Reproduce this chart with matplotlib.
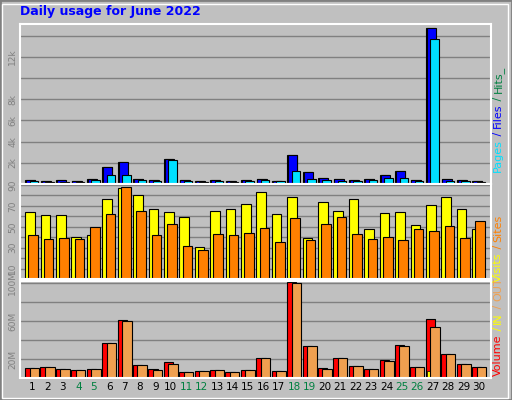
import matplotlib
matplotlib.use("Agg")
import matplotlib.pyplot as plt
import numpy as np

days = list(range(1, 31))
hits = [350,260,350,260,480,1610,2100,450,350,2390,350,260,350,260,350,450,260,2770,1130,550,450,350,450,840,1230,350,14740,450,350,260]
files = [350,260,350,260,480,1610,2100,450,350,2390,350,260,350,260,350,450,260,2770,1130,550,450,350,450,840,1230,350,14740,450,350,260]
pages = [260,200,200,200,350,840,840,350,260,2290,260,200,260,200,260,350,260,1230,450,350,260,260,350,550,550,260,13680,260,260,200]
visits = [64.6,61.6,61.6,40,42,76.4,87,80,67.5,64.6,59.7,31,65.6,66.6,71.5,83,62.6,78.4,39,73.4,65.6,76.4,48,63.6,64.6,51.8,70.5,78.4,66.6,48]
sites = [42,38,39,38,50,62.6,88,65.6,42,52.8,32,28,43,42,44,49,35,58.7,37,52.8,59.7,43,38,40,37,48,46,50.8,39,55.7]
volume = [10.7,11.9,9.6,8.5,9.6,36.3,60.7,14,9.6,16.3,6.3,7.4,8.5,6.3,8.5,20.7,7.4,100.7,34,10.7,20.7,13,9.6,18.5,35.2,11.9,61.9,25.2,15.2,11.9]
vol_in = [0.5]*17 + [1.2] + [0.5]*8 + [7.4] + [0.5]*3
vol_out = [10.7,11.9,9.6,8.5,9.6,36.3,59.6,14,8.5,15.2,6.3,7.4,8.5,6.3,8.5,20.7,7.4,99.6,34,9.6,20.7,13,9.6,17.4,34,11.9,54,25.2,15.2,11.9]
weekends = [4,5,11,12,18,19,25,26]

W, H = 512, 400
fig = plt.figure(figsize=(W/100, H/100), dpi=100)
fig.patch.set_facecolor('#c0c0c0')
from matplotlib.patches import Rectangle
fig.add_artist(Rectangle((0, 0), 1, 1, transform=fig.transFigure, fill=False, ec='#808080', lw=2))
fig.add_artist(Rectangle((2/W, 2/H), 1-6/W, 1-6/H, transform=fig.transFigure, fill=False, ec='white', lw=1))

def px(x0, y0, x1, y1):
    return [x0/W, 1-y1/H, (x1-x0)/W, (y1-y0)/H]

x = np.array(days, dtype=float)
def setup(ax, ymax, ticks, labels):
    ax.set_facecolor('#c0c0c0')
    ax.set_xlim(0.22, 30.78)
    ax.set_ylim(0, ymax)
    ax.set_yticks(ticks)
    ax.set_yticklabels(labels, rotation=90, va='center', color='#808080', fontsize=6.5)
    ax.tick_params(axis='y', length=0, pad=2)
    ax.set_xticks([])
    ax.grid(axis='y', color='#808080', lw=1)
    ax.set_axisbelow(True)
    for s in ax.spines.values():
        s.set_color('white'); s.set_linewidth(1.5)

ax1 = fig.add_axes(px(20, 24, 491, 184))
setup(ax1, 15100, [2000,4000,6000,8000,10000,12000,14000], ['2k','4k','6k','8k','','12k',''])
ax1.bar(x-0.13, hits, width=0.6, color='#008040', ec='black', lw=0.8)
ax1.bar(x-0.08, files, width=0.6, color='#0000ff', ec='black', lw=0.8)
ax1.bar(x+0.12, pages, width=0.55, color='#00e0ff', ec='black', lw=0.8)

ax2 = fig.add_axes(px(20, 184, 491, 279))
setup(ax2, 91, [10,20,30,40,50,60,70,80,90], ['10','','30','','50','','70','','90'])
ax2.bar(x-0.13, visits, width=0.62, color='#ffff00', ec='black', lw=0.8)
ax2.bar(x+0.08, sites, width=0.62, color='#ff8000', ec='black', lw=0.8)

ax3 = fig.add_axes(px(20, 281, 491, 378))
setup(ax3, 102, [20,40,60,80,100], ['20M','','60M','','100M'])
ax3.bar(x-0.15, volume, width=0.6, color='#ff0000', ec='black', lw=0.8)
ax3.bar(x-0.3, vol_in, width=0.2, color='#ffff00', ec='black', lw=0.5)
ax3.bar(x+0.15, vol_out, width=0.62, color='#f0a050', ec='black', lw=0.8)

for d in days:
    xf = (20 + (d-0.22)/(30.56)*471)/W
    fig.text(xf, 1-387/H, str(d), ha='center', va='center', fontsize=7.5,
             color='#008040' if d in weekends else 'black')

fig.text(20/W, 1-12/H, 'Daily usage for June 2022', color='#0000ff', fontsize=9,
         fontweight='bold', ha='left', va='center')

def stack(parts, ybottom, xpos=498, fs=8):
    y = ybottom
    for t, c in parts:
        txt = fig.text(xpos/W, 1-y/H, t, color=c, rotation=90, fontsize=fs,
                       ha='center', va='bottom')
        fig.canvas.draw()
        bb = txt.get_window_extent()
        y -= bb.height
stack([('Pages', '#00e0ff'), (' / ', '#0000ff'), ('Files', '#0000ff'), (' / ', '#008040'), ('Hits_', '#008040')], 172)
stack([('Visits', '#ffff00'), (' / ', '#ff8000'), ('Sites', '#ff8000')], 282)
stack([('Volume', '#ff0000'), (' / ', '#ffff00'), ('IN', '#ffff00'), (' / ', '#f0a050'), ('OUT', '#f0a050')], 376)

fig.savefig('out.png', dpi=100, facecolor=fig.get_facecolor())
